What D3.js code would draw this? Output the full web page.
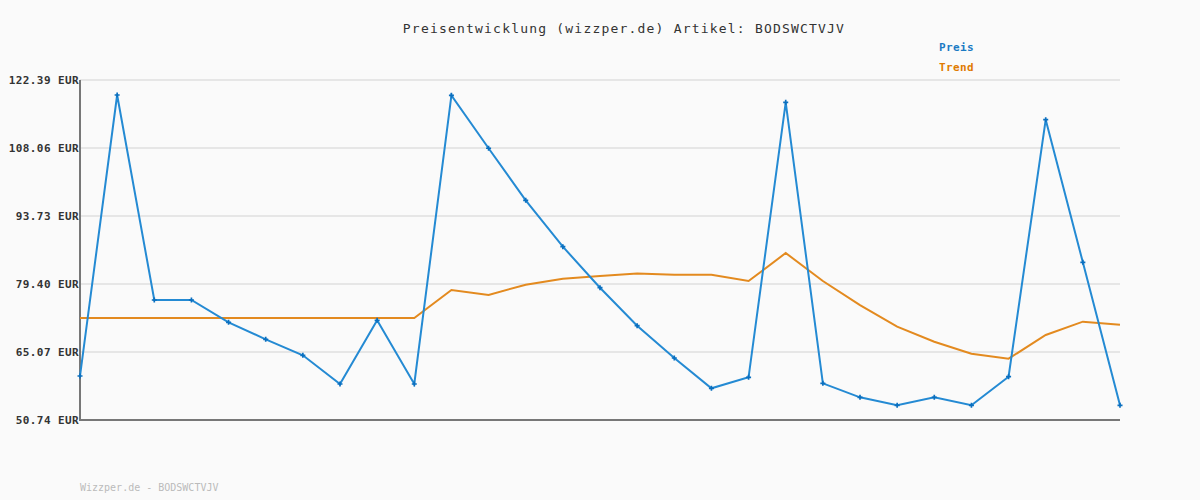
<!DOCTYPE html>
<html lang="de">
  <head>
    <meta charset="utf-8" />
    <title>Preisentwicklung</title>
    <script src="https://cdn.jsdelivr.net/npm/d3@7"></script>
    <style>
      body { margin: 0; background: #fafafa; }
      text { font-family: "DejaVu Sans Mono", monospace; }
    </style>
  </head>
  <body>
    <script>
      // values
      const yTicks = [50.74, 65.07, 79.40, 93.73, 108.06, 122.39];
      const preis = [
        60.01, 119.23, 76.03, 76.03, 71.33, 67.74, 64.37, 58.33, 71.75, 58.33,
        119.16, 108.0, 97.04, 87.26, 78.62, 70.61, 63.81, 57.42, 59.74, 117.69,
        58.47, 55.52, 53.84, 55.52, 53.84, 59.87, 114.03, 83.97, 53.84
      ];
      const trend = [
        72.24, 72.24, 72.24, 72.24, 72.24, 72.24, 72.24, 72.24, 72.24, 72.24,
        78.14, 77.09, 79.26, 80.52, 81.09, 81.6, 81.36, 81.36, 80.03, 85.93,
        80.03, 74.95, 70.4, 67.24, 64.72, 63.66, 68.65, 71.46, 70.82
      ];
      const artikel = "BODSWCTVJV";

      const width = 1200, height = 500;
      const margin = { top: 80, right: 80, bottom: 80, left: 80 };

      const svg = d3.select("body").append("svg")
        .attr("width", width)
        .attr("height", height);

      svg.append("rect").attr("width", width).attr("height", height).attr("fill", "#fafafa");

      const x = d3.scaleLinear()
        .domain([0, preis.length - 1])
        .range([margin.left, width - margin.right]);
      const y = d3.scaleLinear()
        .domain([yTicks[0], yTicks[yTicks.length - 1]])
        .range([height - margin.bottom, margin.top]);

      // gridlines
      svg.append("g")
        .selectAll("line")
        .data(yTicks)
        .join("line")
        .attr("x1", margin.left)
        .attr("x2", width - margin.right)
        .attr("y1", d => y(d))
        .attr("y2", d => y(d))
        .attr("stroke", "#e6e6e6")
        .attr("stroke-width", 2);

      // y labels
      svg.append("g")
        .selectAll("text")
        .data(yTicks)
        .join("text")
        .attr("x", margin.left - 1)
        .attr("y", d => y(d) + 4)
        .attr("text-anchor", "end")
        .attr("font-size", 11)
        .attr("font-weight", "bold")
        .attr("letter-spacing", 0.4)
        .attr("fill", "#333")
        .text(d => d.toFixed(2) + " EUR");

      // axes
      svg.append("line")
        .attr("x1", margin.left).attr("x2", margin.left)
        .attr("y1", y(yTicks[yTicks.length - 1])).attr("y2", y(yTicks[0]) + 1)
        .attr("stroke", "#777").attr("stroke-width", 2);
      svg.append("line")
        .attr("x1", margin.left - 1).attr("x2", width - margin.right)
        .attr("y1", y(yTicks[0])).attr("y2", y(yTicks[0]))
        .attr("stroke", "#777").attr("stroke-width", 2);

      const line = d3.line()
        .x((d, i) => x(i))
        .y(d => y(d));

      svg.append("path")
        .datum(trend)
        .attr("d", line)
        .attr("fill", "none")
        .attr("stroke", "#e38a1f")
        .attr("stroke-width", 2);

      svg.append("path")
        .datum(preis)
        .attr("d", line)
        .attr("fill", "none")
        .attr("stroke", "#248ad3")
        .attr("stroke-width", 2);

      svg.append("g")
        .selectAll("path")
        .data(preis)
        .join("path")
        .attr("transform", (d, i) => `translate(${x(i)},${y(d)})`)
        .attr("d", d3.symbol(d3.symbolCross, 14))
        .attr("fill", "#0a6fbf");

      // title
      svg.append("text")
        .attr("x", 624)
        .attr("y", 33)
        .attr("text-anchor", "middle")
        .attr("font-size", 13)
        .attr("letter-spacing", 1.2)
        .attr("fill", "#333")
        .text("Preisentwicklung (wizzper.de) Artikel: " + artikel);

      // legend
      const legend = [
        { name: "Preis", color: "#1a7ac4" },
        { name: "Trend", color: "#e07b00" }
      ];
      svg.append("g")
        .selectAll("text")
        .data(legend)
        .join("text")
        .attr("x", 939)
        .attr("y", (d, i) => 51 + i * 20)
        .attr("font-size", 11)
        .attr("font-weight", "bold")
        .attr("letter-spacing", 0.4)
        .attr("fill", d => d.color)
        .text(d => d.name);

      // footer
      svg.append("text")
        .attr("x", 80)
        .attr("y", 491)
        .attr("font-size", 10)
        .attr("fill", "#bbb")
        .text("Wizzper.de - " + artikel);
    </script>
  </body>
</html>
